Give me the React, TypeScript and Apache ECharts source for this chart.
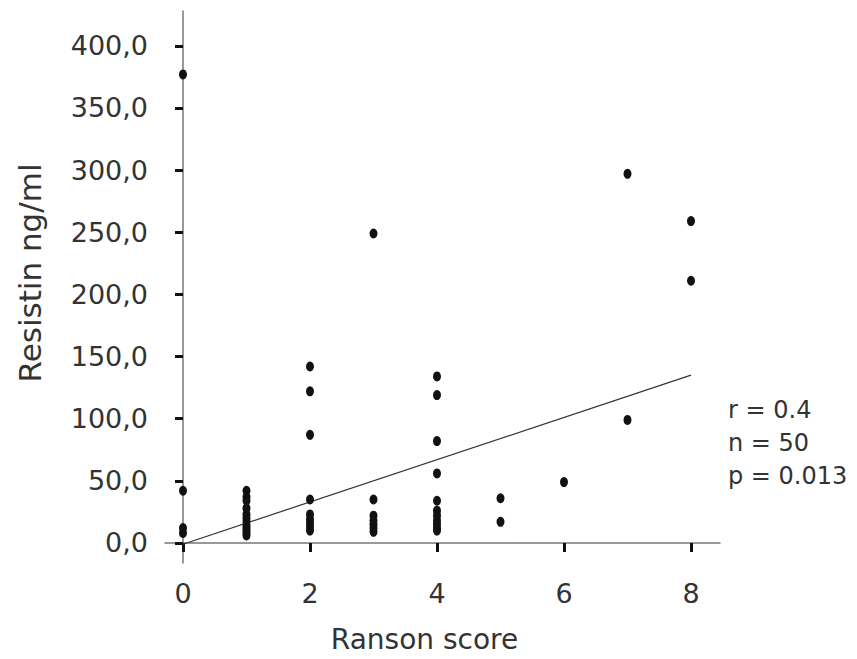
import React, { useEffect, useRef } from "react";
import * as echarts from "echarts";

// Ranson score (x) and resistin ng/ml (y) for each of the 50 patients
const ransonScore = [
  0, 0, 0, 0,
  1, 1, 1, 1, 1, 1, 1, 1, 1, 1, 1, 1,
  2, 2, 2, 2, 2, 2, 2, 2, 2,
  3, 3, 3, 3, 3, 3, 3,
  4, 4, 4, 4, 4, 4, 4, 4, 4, 4, 4,
  5, 5,
  6,
  7, 7,
  8, 8,
];
const resistin = [
  377, 42, 12, 8,
  42, 37, 34, 28, 23, 20, 17, 14, 12, 10, 8, 6,
  142, 122, 87, 35, 23, 19, 16, 13, 10,
  249, 35, 22, 18, 15, 12, 9,
  134, 119, 82, 56, 34, 26, 22, 18, 15, 12, 10,
  36, 17,
  49,
  297, 99,
  259, 211,
];

// Fitted regression line end points
const fitX = [0, 8];
const fitY = [-1, 135];

const xTicks = [0, 2, 4, 6, 8];
const yTicks = [0, 50, 100, 150, 200, 250, 300, 350, 400];
const statsLines = ["r = 0.4", "n = 50", "p = 0.013"];

const FONT = "'DejaVu Sans', Verdana, sans-serif";

export default function App() {
  const ref = useRef<HTMLDivElement>(null);

  useEffect(() => {
    const chart = echarts.init(ref.current!, null, { renderer: "svg" });
    const points = ransonScore.map((x, i) => [x, resistin[i]]);
    const line = fitX.map((x, i) => [x, fitY[i]]);

    chart.setOption({
      animation: false,
      backgroundColor: "#ffffff",
      grid: {
        left: 165,
        right: 137,
        top: 11,
        bottom: 96,
        containLabel: false,
        outerBoundsMode: "none",
      },
      xAxis: {
        type: "value",
        min: -0.283,
        max: 8.457,
        name: "Ranson score",
        nameLocation: "middle",
        nameGap: 62,
        nameTextStyle: {
          fontFamily: FONT,
          fontSize: 28,
          color: "#333",
          padding: [0, 36, 0, 0],
        },
        axisLine: { show: true, lineStyle: { color: "#777", width: 1.5 } },
        axisTick: {
          show: true,
          customValues: xTicks,
          length: 9,
          lineStyle: { color: "#111", width: 3 },
        },
        axisLabel: {
          customValues: xTicks,
          margin: 17,
          fontFamily: FONT,
          fontSize: 27,
          color: "#333",
          formatter: (v: number) => String(v),
        },
        splitLine: { show: false },
      },
      yAxis: {
        type: "value",
        min: -16.1,
        max: 428,
        name: "Resistin ng/ml",
        nameLocation: "middle",
        nameRotate: 90,
        nameGap: 120,
        nameTextStyle: {
          fontFamily: FONT,
          fontSize: 31,
          color: "#333",
          padding: [0, 0, 0, 28],
        },
        axisLine: { show: true, lineStyle: { color: "#777", width: 1.5 } },
        axisTick: {
          show: true,
          customValues: yTicks,
          length: 8,
          lineStyle: { color: "#111", width: 3 },
        },
        axisLabel: {
          customValues: yTicks,
          margin: 17,
          fontFamily: FONT,
          fontSize: 27,
          color: "#333",
          formatter: (v: number) => v.toFixed(1).replace(".", ","),
        },
        splitLine: { show: false },
      },
      graphic: statsLines.map((t, i) => ({
        type: "text",
        x: 728,
        y: 410 + i * 33,
        style: {
          text: t,
          font: `24px ${FONT}`,
          fill: "#333",
          verticalAlign: "middle",
        },
      })),
      series: [
        {
          type: "line",
          data: line,
          showSymbol: false,
          symbol: "none",
          lineStyle: { color: "#333", width: 1.2 },
          z: 2,
        },
        {
          type: "scatter",
          data: points,
          symbol: "circle",
          symbolSize: [8, 10],
          itemStyle: { color: "#111", opacity: 1 },
          z: 3,
        },
      ],
    });
    return () => chart.dispose();
  }, []);

  return (
    <div
      ref={ref}
      style={{
        position: "absolute",
        left: 0,
        top: 0,
        width: 857,
        height: 659,
        background: "#fff",
      }}
    />
  );
}
